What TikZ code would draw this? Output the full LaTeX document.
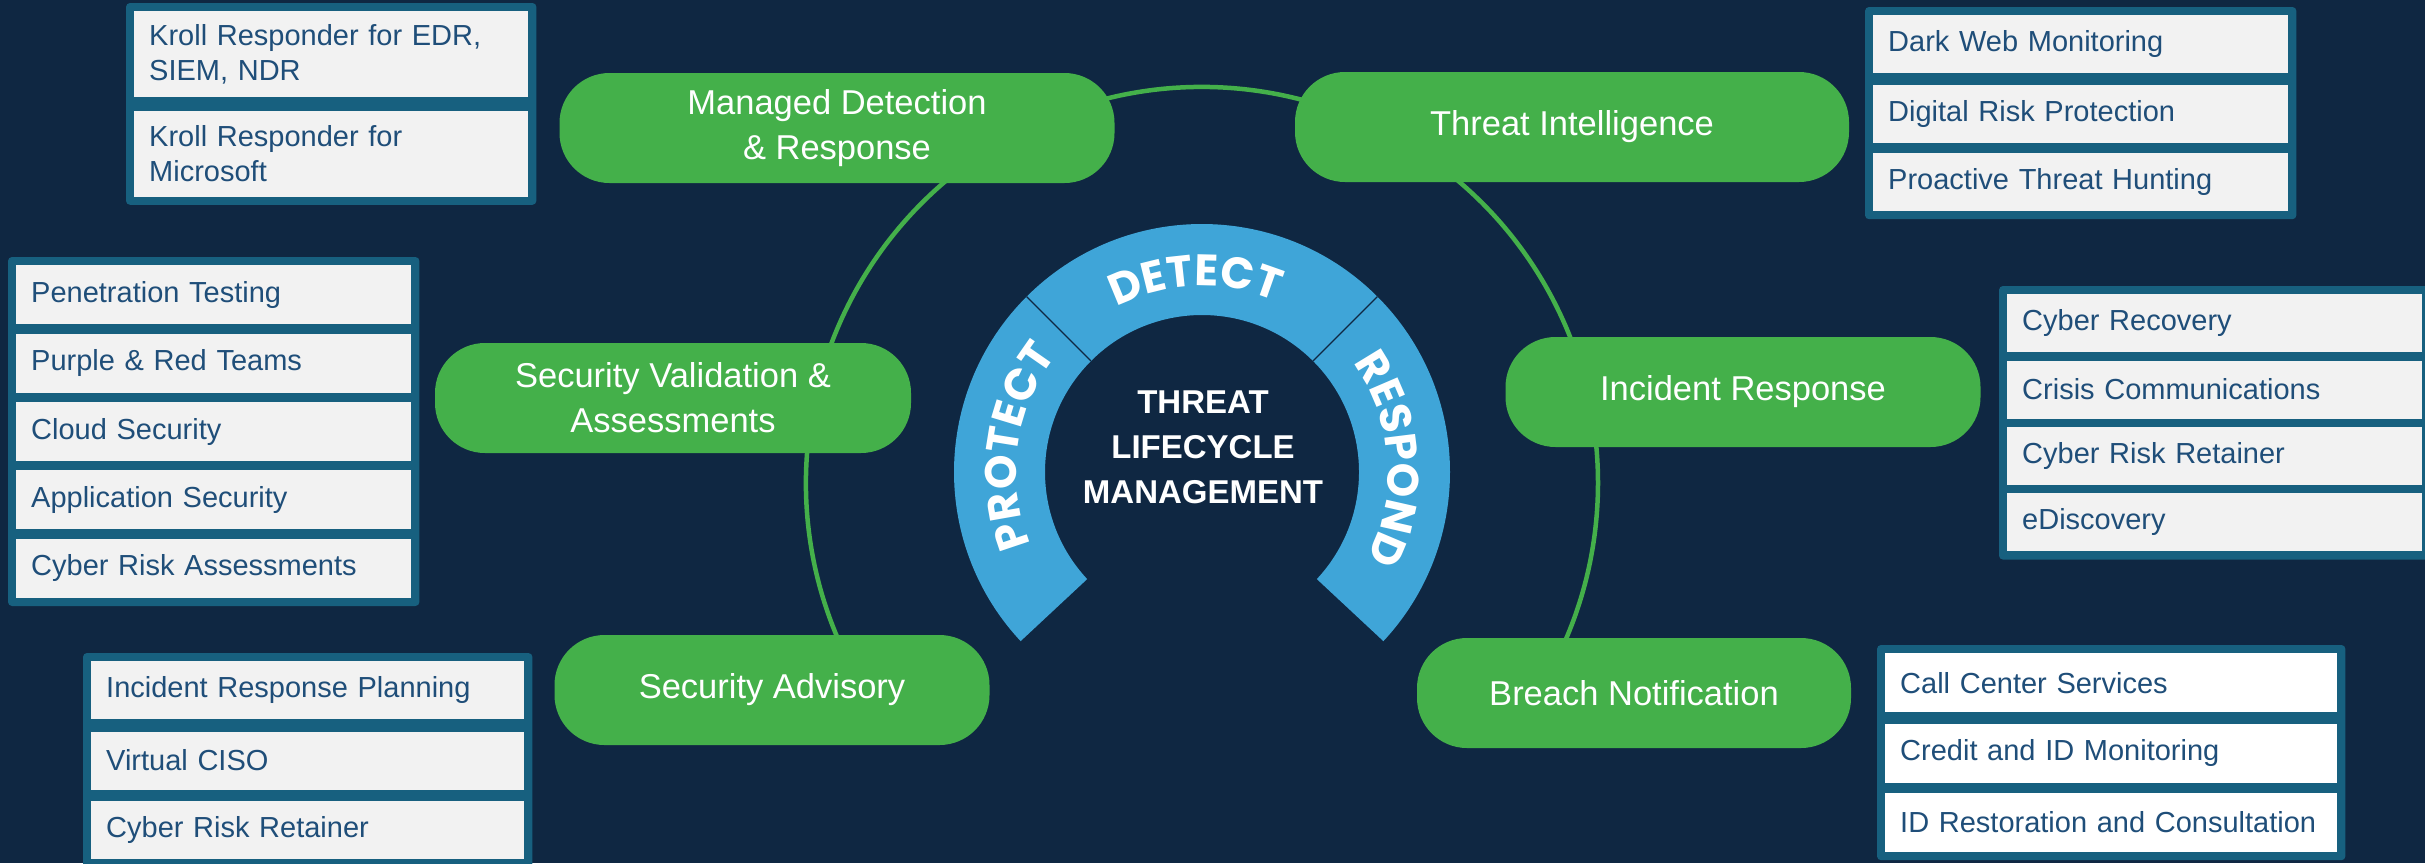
\documentclass[tikz,border=0pt]{standalone}
\usepackage{fontspec}
\setmainfont{Liberation Sans}
\newfontfamily\bandfont{Poppins}
\usetikzlibrary{positioning, fit, backgrounds, decorations.text}

\definecolor{bgnavy}{HTML}{0F2742}
\definecolor{leafgreen}{HTML}{44B04A}
\definecolor{bandblue}{HTML}{3FA5D8}
\definecolor{framebl}{HTML}{17607F}
\definecolor{boxgray}{HTML}{F2F2F2}
\definecolor{itemblue}{HTML}{1F4E79}

\tikzset{
  pill/.style={fill=leafgreen, rounded corners=50pt, minimum height=110pt, text=white, align=center, font=\fontsize{34.5}{45}\selectfont},
  listbox/.style={fill=boxgray, text=itemblue, align=left, inner xsep=15pt, inner ysep=0pt, minimum height=58pt, text width=#1, font=\fontsize{29}{35}\selectfont},
  listframe/.style={fill=framebl, rounded corners=4pt, inner sep=8pt},
  bandtext/.style={decorate, decoration={text along path, text align=center, text={|\bandfont\bfseries\fontsize{44}{44}\selectfont\color{white}|#1}}},
}

\begin{document}
\begin{tikzpicture}[x=1pt, y=-1pt]
\useasboundingbox (0,0) rectangle (2425,863);
\begin{scope}[on background layer]
  \fill[bgnavy] (0,0) rectangle (2425,863);
\end{scope}

% y runs downwards, so every angle below is mirrored
\coordinate (ring) at (1202,483);
\coordinate (hub) at (1202,472);
\draw[leafgreen, line width=4.5pt] ([shift={(-205:396)}]ring) arc[start angle=-205, end angle=25, radius=396];

\fill[bandblue] ([shift={(-223:248)}]hub) arc[start angle=-223, end angle=43, radius=248]
  -- ([shift={(43:157)}]hub) arc[start angle=43, end angle=-223, radius=157] -- cycle;
\draw[bgnavy, line width=1.2pt] ([shift={(-135:157)}]hub) -- ([shift={(-135:248)}]hub);
\draw[bgnavy, line width=1.2pt] ([shift={(-45:157)}]hub) -- ([shift={(-45:248)}]hub);
\path[bandtext=PROTECT] ([shift={(-222:186)}]hub) arc[start angle=-222, end angle=-122, radius=186];
\path[bandtext=DETECT] ([shift={(-137:186)}]hub) arc[start angle=-137, end angle=-47, radius=186];
\path[bandtext=RESPOND] ([shift={(-49:186)}]hub) arc[start angle=-49, end angle=41, radius=186];

\node[text=white, font=\bfseries\fontsize{33}{45}\selectfont, align=center] (tlm) at (1203,447) {THREAT\\LIFECYCLE\\MANAGEMENT};

\node[pill, minimum width=555pt] (mdr) at (837,128) {Managed Detection\\\& Response};
\node[pill, minimum width=554pt] (ti) at (1572,127) {Threat Intelligence};
\node[pill, minimum width=476pt] (sva) at (673,398) {Security Validation \&\\Assessments};
\node[pill, minimum width=475pt] (ir) at (1743,392) {Incident Response};
\node[pill, minimum width=435pt] (sa) at (772,690) {Security Advisory};
\node[pill, minimum width=434pt] (bn) at (1634,693) {Breach Notification};

% Managed Detection & Response
\node[listbox=364pt, minimum height=86pt, anchor=north west] (mdr1) at (134,11) {Kroll Responder for EDR,\\SIEM, NDR};
\node[listbox=364pt, minimum height=86pt, below=13pt of mdr1] (mdr2) {Kroll Responder for\\Microsoft};

% Threat Intelligence
\node[listbox=385pt, anchor=north west] (ti1) at (1873,15) {Dark Web Monitoring};
\node[listbox=385pt, below=11pt of ti1] (ti2) {Digital Risk Protection};
\node[listbox=385pt, below=10pt of ti2] (ti3) {Proactive Threat Hunting};

% Security Validation & Assessments
\node[listbox=365pt, minimum height=59pt, anchor=north west] (sva1) at (16,265) {Penetration Testing};
\node[listbox=365pt, minimum height=59pt, below=9pt of sva1] (sva2) {Purple \& Red Teams};
\node[listbox=365pt, minimum height=59pt, below=9pt of sva2] (sva3) {Cloud Security};
\node[listbox=365pt, minimum height=59pt, below=9pt of sva3] (sva4) {Application Security};
\node[listbox=365pt, minimum height=59pt, below=9pt of sva4] (sva5) {Cyber Risk Assessments};

% Incident Response
\node[listbox=385pt, anchor=north west] (ir1) at (2007,294) {Cyber Recovery};
\node[listbox=385pt, below=8pt of ir1] (ir2) {Crisis Communications};
\node[listbox=385pt, below=8pt of ir2] (ir3) {Cyber Risk Retainer};
\node[listbox=385pt, below=8pt of ir3] (ir4) {eDiscovery};

% Security Advisory
\node[listbox=403pt, anchor=north west] (sa1) at (91,661) {Incident Response Planning};
\node[listbox=403pt, below=12pt of sa1] (sa2) {Virtual CISO};
\node[listbox=403pt, below=11pt of sa2] (sa3) {Cyber Risk Retainer};

% Breach Notification
\node[listbox=422pt, fill=white, minimum height=59pt, anchor=north west] (bn1) at (1885,653) {Call Center Services};
\node[listbox=422pt, fill=white, minimum height=59pt, below=11pt of bn1] (bn2) {Credit and ID Monitoring};
\node[listbox=422pt, fill=white, minimum height=59pt, below=10pt of bn2] (bn3) {ID Restoration and Consultation};

\begin{scope}[on background layer]
  \node[listframe, fit=(mdr1)(mdr2)] (mdrframe) {};
  \node[listframe, fit=(ti1)(ti3)] (tiframe) {};
  \node[listframe, fit=(sva1)(sva5)] (svaframe) {};
  \node[listframe, fit=(ir1)(ir4)] (irframe) {};
  \node[listframe, fit=(sa1)(sa3)] (saframe) {};
  \node[listframe, fit=(bn1)(bn3)] (bnframe) {};
\end{scope}
\end{tikzpicture}
\end{document}
